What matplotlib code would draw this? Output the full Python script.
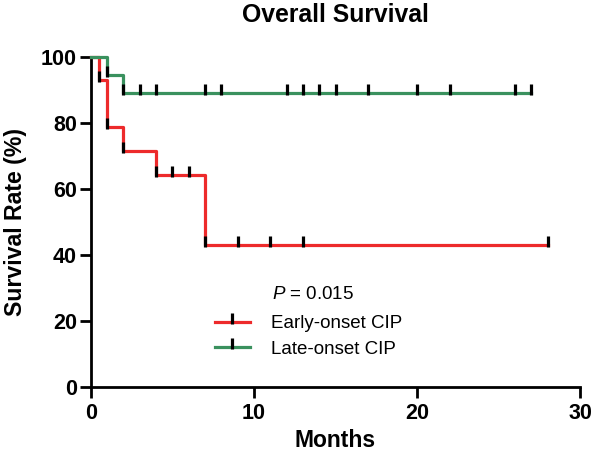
import numpy as np
import matplotlib.pyplot as plt
from matplotlib.path import Path
from matplotlib.lines import Line2D

plt.rcParams['font.family'] = ['Liberation Sans', 'DejaVu Sans']
plt.rcParams['mathtext.fontset'] = 'custom'
plt.rcParams['mathtext.rm'] = 'Liberation Sans'
plt.rcParams['mathtext.it'] = 'Liberation Sans:italic'

# Kaplan-Meier steps (months, survival %)
early_t = [0, 0.5, 1, 2, 4, 7, 28]
early_s = [100, 92.9, 78.6, 71.4, 64.3, 42.9, 42.9]
early_cens = [0.5, 1, 2, 4, 5, 6, 7, 9, 11, 13, 28]

late_t = [0, 1, 2, 27]
late_s = [100, 94.4, 88.9, 88.9]
late_cens = [1, 2, 3, 4, 7, 8, 12, 13, 14, 15, 17, 20, 22, 26, 27]

labels = ['Early-onset CIP', 'Late-onset CIP']
p_text = r'$\it{P}$ = 0.015'

red = '#ED2A2B'
green = '#3A915E'

# censor tick: short vertical line, mostly above the curve
tick = Path([(0, -0.18), (0, 1)], [Path.MOVETO, Path.LINETO])


def level_at(t, s, x):
    i = np.searchsorted(t, x, side='right') - 1
    return np.array(s)[i]


fig = plt.figure(figsize=(5.96, 4.63), dpi=100)
ax = fig.add_axes([0.1523, 0.1648, 0.8214, 0.7127])

for t, s, c, col in [(early_t, early_s, early_cens, red), (late_t, late_s, late_cens, green)]:
    ax.step(t, s, where='post', color=col, lw=2.3, clip_on=False, zorder=3)
    ax.plot(c, level_at(t, s, c), ls='none', marker=tick, ms=13,
            mec='black', mew=2.3, clip_on=False, zorder=4)

ax.set_xlim(0, 30)
ax.set_ylim(0, 100)
ax.set_xticks([0, 10, 20, 30])
ax.set_yticks([0, 20, 40, 60, 80, 100])
for side in ['top', 'right']:
    ax.spines[side].set_visible(False)
for side in ['left', 'bottom']:
    ax.spines[side].set_linewidth(2)
ax.tick_params(width=2, length=8, labelsize=15.5)
ax.tick_params(axis='x', pad=4)
ax.tick_params(axis='y', pad=2)
for lb in ax.get_xticklabels() + ax.get_yticklabels():
    lb.set_fontweight('bold')

ax.set_xlabel('Months', fontsize=16.5, fontweight='bold', labelpad=3)
ax.set_ylabel('Survival Rate (%)', fontsize=16.7, fontweight='bold', labelpad=10)
fig.text(0.563, 0.967, 'Overall Survival', fontsize=17.8, fontweight='bold',
         ha='center', va='center')

fig.text(0.456, 0.364, p_text, fontsize=13.5, va='center')
handles = [Line2D([], [], color=red, lw=2.3, marker=tick, ms=13, mec='black', mew=2.3),
           Line2D([], [], color=green, lw=2.3, marker=tick, ms=13, mec='black', mew=2.3)]
fig.legend(handles, labels, loc='upper left', bbox_to_anchor=(0.36, 0.319),
           frameon=False, fontsize=13.5, handlelength=1.9, handletextpad=1.1,
           labelspacing=0.45, borderpad=0, borderaxespad=0)

fig.savefig('out.png', dpi=100, facecolor='white')
